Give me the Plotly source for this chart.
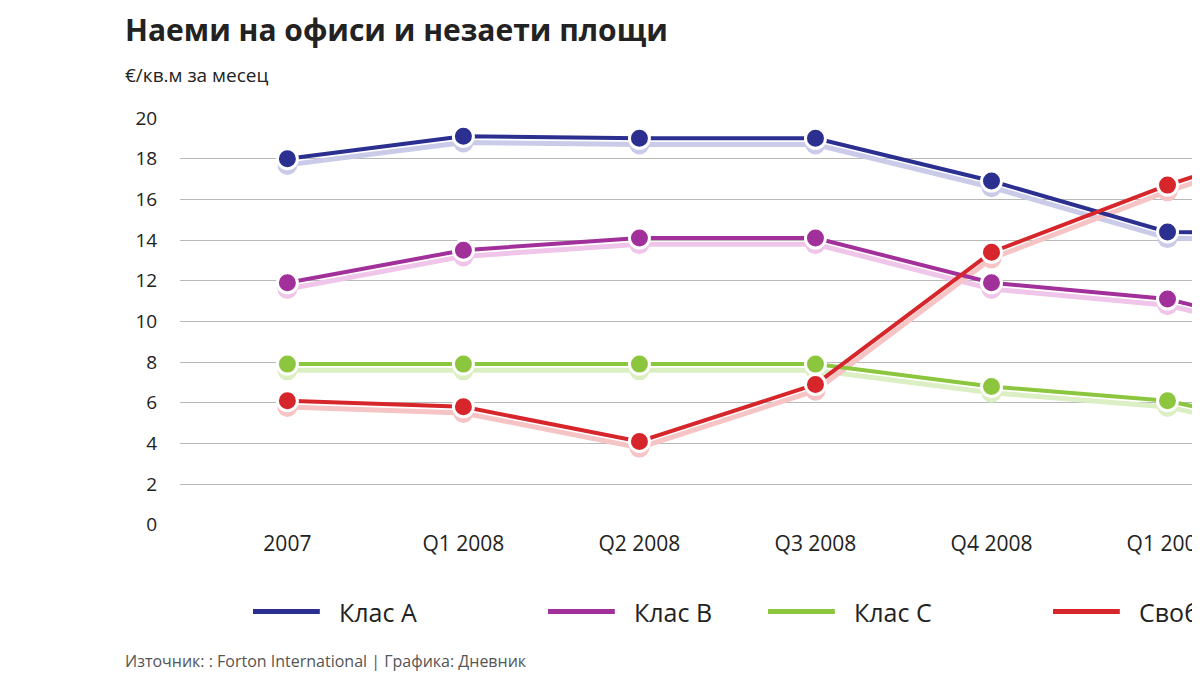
import plotly.graph_objects as go

periods = ["2007", "Q1 2008", "Q2 2008", "Q3 2008", "Q4 2008", "Q1 2009", "Q2 2009"]
klas_a = [18.0, 19.1, 19.0, 19.0, 16.9, 14.4, 14.3]
klas_b = [11.9, 13.5, 14.1, 14.1, 11.9, 11.1, 9.0]
klas_c = [7.9, 7.9, 7.9, 7.9, 6.8, 6.1, 4.2]
svobodni = [6.1, 5.8, 4.1, 6.9, 13.4, 16.7, 19.5]

series = [
    ("Клас А", klas_a, "#2b2f8f", "#c9cbe8"),
    ("Клас В", klas_b, "#a1309b", "#efc6ea"),
    ("Клас С", klas_c, "#8cc63f", "#dcefc4"),
    ("Свободни площи", svobodni, "#d7262b", "#f6c4c4"),
]

fig = go.Figure()
x = list(range(len(periods)))
# empty trace so the grid axis exists
fig.add_trace(go.Scatter(x=[0], y=[0], mode="markers", marker=dict(opacity=0),
                         showlegend=False, hoverinfo="skip"))
# soft shadow lines drawn on an offset copy of the y axis
for name, vals, col, shade in series:
    fig.add_trace(go.Scatter(x=x, y=vals, yaxis="y2", mode="lines+markers",
                             line=dict(color=shade, width=5),
                             marker=dict(size=20, color=shade),
                             showlegend=False, hoverinfo="skip"))
for name, vals, col, shade in series:
    fig.add_trace(go.Scatter(x=x, y=vals, yaxis="y3", mode="lines+markers", name=name,
                             line=dict(color=col, width=4),
                             marker=dict(size=20, color=col, line=dict(color="white", width=3)),
                             showlegend=False))

fig.update_layout(
    width=1200, height=675, paper_bgcolor="white", plot_bgcolor="rgba(0,0,0,0)",
    margin=dict(l=172, r=0, t=110, b=152),
    font=dict(family="Open Sans", color="#333"),
    xaxis=dict(range=[-0.61, 5.23], tickvals=x, ticktext=periods, showgrid=False,
               zeroline=False, tickfont=dict(size=21, color="#222"), ticklen=0,
               ticks="outside", tickcolor="white", ticklabeloverflow="allow"),
    yaxis=dict(range=[0, 20], dtick=2, showgrid=True, gridcolor="#b8b8b8", gridwidth=1,
               zeroline=False, tickfont=dict(size=19, color="#222"), domain=[0.015, 1],
               ticks="outside", ticklen=18, tickcolor="white"),
    yaxis2=dict(range=[0, 20], domain=[0, 0.985], anchor="x", visible=False),
    yaxis3=dict(range=[0, 20], domain=[0.015, 1], anchor="x", visible=False),
)

fig.add_annotation(xref="paper", yref="paper", x=-0.055, y=1.215, xanchor="left", yanchor="middle",
                   text="<b>Наеми на офиси и незаети площи</b>", showarrow=False,
                   font=dict(size=30, color="#222"))
fig.add_annotation(xref="paper", yref="paper", x=-0.055, y=1.105, xanchor="left", yanchor="middle",
                   text="€/кв.м за месец", showarrow=False, font=dict(size=19, color="#222"))

legend_x = [245, 540, 760, 1045]
for (name, vals, col, shade), lx in zip(series, legend_x):
    fx = (lx - 172) / 1028
    fig.add_shape(type="line", xref="paper", yref="paper", x0=fx, x1=fx + 0.065,
                  y0=-0.195, y1=-0.195, line=dict(color=col, width=5))
    fig.add_annotation(xref="paper", yref="paper", x=fx + 0.082, y=-0.195, xanchor="left",
                       yanchor="middle", text=name, showarrow=False,
                       font=dict(size=25, color="#222"))

fig.add_annotation(xref="paper", yref="paper", x=-0.055, y=-0.315, xanchor="left", yanchor="middle",
                   text="Източник: : Forton International | Графика: Дневник", showarrow=False,
                   font=dict(size=16, color="#555"))

fig.write_html("out.html")
